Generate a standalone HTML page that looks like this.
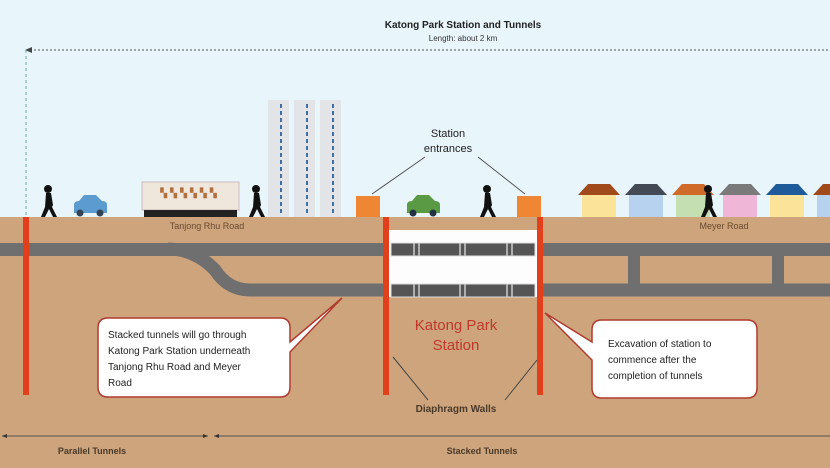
<!DOCTYPE html>
<html><head><meta charset="utf-8"><style>
html,body{margin:0;padding:0;width:830px;height:468px;overflow:hidden;background:#fff}
svg{display:block;font-family:"Liberation Sans",sans-serif}
</style></head><body>
<svg width="830" height="468" viewBox="0 0 830 468" xmlns="http://www.w3.org/2000/svg">
<rect x="0" y="0" width="830" height="218" fill="#e8f5fb"/>
<rect x="0" y="217" width="830" height="251" fill="#cda47c"/>
<text x="463" y="28" font-size="10" font-weight="bold" text-anchor="middle" fill="#222">Katong Park Station and Tunnels</text>
<text x="463" y="41" font-size="8" text-anchor="middle" fill="#333">Length: about 2 km</text>
<line x1="30" y1="50" x2="830" y2="50" stroke="#555" stroke-width="1" stroke-dasharray="2,2"/>
<path d="M25 50 L32 47 L32 53Z" fill="#444"/>
<line x1="26" y1="50" x2="26" y2="217" stroke="#6aa" stroke-width="1" stroke-dasharray="3,3"/>
<g fill="#e2e4e8">
<rect x="268" y="100" width="21" height="117"/><rect x="294" y="100" width="21" height="117"/><rect x="320" y="100" width="21" height="117"/>
</g>
<g stroke="#3d6fa0" stroke-width="2" stroke-dasharray="4,3"><line x1="281" y1="104" x2="281" y2="215"/><line x1="307" y1="104" x2="307" y2="215"/><line x1="333" y1="104" x2="333" y2="215"/></g>
<rect x="142" y="182" width="97" height="28" fill="#efe6dc" stroke="#cbb" />
<text x="190" y="196" font-size="9" text-anchor="middle" fill="#b07040" letter-spacing="3">▚▚▚▚▚▚</text>
<rect x="144" y="210" width="93" height="7" fill="#222"/>
<g><path d="M74 213v-8q0-4 5-4l5-6h12l6 6q5 0 5 4v8z" fill="#5b9bd0"/><circle cx="80" cy="213" r="3.5" fill="#345"/><circle cx="100" cy="213" r="3.5" fill="#345"/></g>
<g><path d="M407 213v-8q0-4 5-4l5-6h12l6 6q5 0 5 4v8z" fill="#5a9a45"/><circle cx="413" cy="213" r="3.5" fill="#234"/><circle cx="433" cy="213" r="3.5" fill="#234"/></g>
<rect x="356" y="196" width="24" height="21" fill="#ee8634"/><rect x="517" y="196" width="24" height="21" fill="#ee8634"/>
<text x="448" y="137" font-size="11" text-anchor="middle" fill="#222">Station</text>
<text x="448" y="152" font-size="11" text-anchor="middle" fill="#222">entrances</text>
<line x1="425" y1="157" x2="372" y2="194" stroke="#555"/><line x1="478" y1="157" x2="525" y2="194" stroke="#555"/>
<g>
<path d="M578 195l10-11h22l10 11z" fill="#a04a1c"/><rect x="582" y="195" width="34" height="22" fill="#fbe39a"/>
<path d="M625 195l10-11h22l10 11z" fill="#444a55"/><rect x="629" y="195" width="34" height="22" fill="#b7d2ee"/>
<path d="M672 195l10-11h22l10 11z" fill="#d06a28"/><rect x="676" y="195" width="34" height="22" fill="#c4dfb1"/>
<path d="M719 195l10-11h22l10 11z" fill="#7a7a7a"/><rect x="723" y="195" width="34" height="22" fill="#f0b6d8"/>
<path d="M766 195l10-11h22l10 11z" fill="#1f5a9a"/><rect x="770" y="195" width="34" height="22" fill="#fbe39a"/>
<path d="M813 195l10-11h22l10 11z" fill="#a04a1c"/><rect x="817" y="195" width="34" height="22" fill="#b7d2ee"/>
</g>
<g fill="#111">
<circle cx="48" cy="189" r="4"/><path d="M46 193h5l2 12 -1 2 5 10h-4l-4-8-4 8h-4l4-10z"/>
<circle cx="256" cy="189" r="4"/><path d="M254 193h5l2 12 -1 2 5 10h-4l-4-8-4 8h-4l4-10z"/>
<circle cx="487" cy="189" r="4"/><path d="M485 193h5l2 12 -1 2 5 10h-4l-4-8-4 8h-4l4-10z"/>
<circle cx="708" cy="189" r="4"/><path d="M706 193h5l2 12 -1 2 5 10h-4l-4-8-4 8h-4l4-10z"/>
</g>
<text x="207" y="229" font-size="9" text-anchor="middle" fill="#6a4a30">Tanjong Rhu Road</text>
<text x="724" y="229" font-size="9" text-anchor="middle" fill="#6a4a30">Meyer Road</text>
<rect x="0" y="243" width="830" height="13" fill="#6f6f6f"/>
<path d="M168 249 Q195 249 215 270 Q228 290 250 290 L830 290" fill="none" stroke="#6f6f6f" stroke-width="13"/>
<rect x="628" y="256" width="12" height="28" fill="#6f6f6f"/><rect x="772" y="256" width="12" height="28" fill="#6f6f6f"/>
<rect x="389" y="230" width="148" height="67" fill="#fdfdfd"/>
<rect x="391" y="243" width="144" height="13" fill="#555" stroke="#ddd"/>
<rect x="391" y="284" width="144" height="13" fill="#555" stroke="#ddd"/>
<g stroke="#ccc" stroke-width="1.5"><line x1="414" y1="243" x2="414" y2="256"/><line x1="419" y1="243" x2="419" y2="256"/><line x1="460" y1="243" x2="460" y2="256"/><line x1="465" y1="243" x2="465" y2="256"/><line x1="507" y1="243" x2="507" y2="256"/><line x1="512" y1="243" x2="512" y2="256"/>
<line x1="414" y1="284" x2="414" y2="297"/><line x1="419" y1="284" x2="419" y2="297"/><line x1="460" y1="284" x2="460" y2="297"/><line x1="465" y1="284" x2="465" y2="297"/><line x1="507" y1="284" x2="507" y2="297"/><line x1="512" y1="284" x2="512" y2="297"/></g>
<rect x="23" y="217" width="6" height="178" fill="#e2401c"/>
<rect x="383" y="217" width="6" height="178" fill="#e2401c"/>
<rect x="537" y="217" width="6" height="178" fill="#e2401c"/>
<text x="456" y="330" font-size="15" text-anchor="middle" fill="#c0392b">Katong Park</text>
<text x="456" y="350" font-size="15" text-anchor="middle" fill="#c0392b">Station</text>
<text x="456" y="412" font-size="10" font-weight="bold" text-anchor="middle" fill="#4a3a2a">Diaphragm Walls</text>
<line x1="428" y1="400" x2="393" y2="357" stroke="#444"/><line x1="505" y1="400" x2="537" y2="360" stroke="#444"/>
<path d="M108 318 H280 Q290 318 290 328 L290 342 L342 298 L290 352 V387 Q290 397 280 397 H108 Q98 397 98 387 V328 Q98 318 108 318Z" fill="#fff" stroke="#b03a2e" stroke-width="1.5"/>
<text font-size="10" fill="#222"><tspan x="108" y="338">Stacked tunnels will go through</tspan><tspan x="108" y="354">Katong Park Station underneath</tspan><tspan x="108" y="370">Tanjong Rhu Road and Meyer</tspan><tspan x="108" y="386">Road</tspan></text>
<path d="M602 320 H747 Q757 320 757 330 V388 Q757 398 747 398 H602 Q592 398 592 388 V360 L545 313 L592 342 V330 Q592 320 602 320Z" fill="#fff" stroke="#b03a2e" stroke-width="1.5"/>
<text font-size="10" fill="#222"><tspan x="608" y="347">Excavation of station to</tspan><tspan x="608" y="363">commence after the</tspan><tspan x="608" y="379">completion of tunnels</tspan></text>
<line x1="2" y1="436" x2="208" y2="436" stroke="#555"/><line x1="214" y1="436" x2="830" y2="436" stroke="#555"/>
<path d="M2 436l5-2v4z M208 436l-5-2v4z M214 436l5-2v4z" fill="#333"/>
<text x="92" y="454" font-size="9" font-weight="bold" text-anchor="middle" fill="#4a3a2a">Parallel Tunnels</text>
<text x="482" y="454" font-size="9" font-weight="bold" text-anchor="middle" fill="#4a3a2a">Stacked Tunnels</text>
</svg>
</body></html>
